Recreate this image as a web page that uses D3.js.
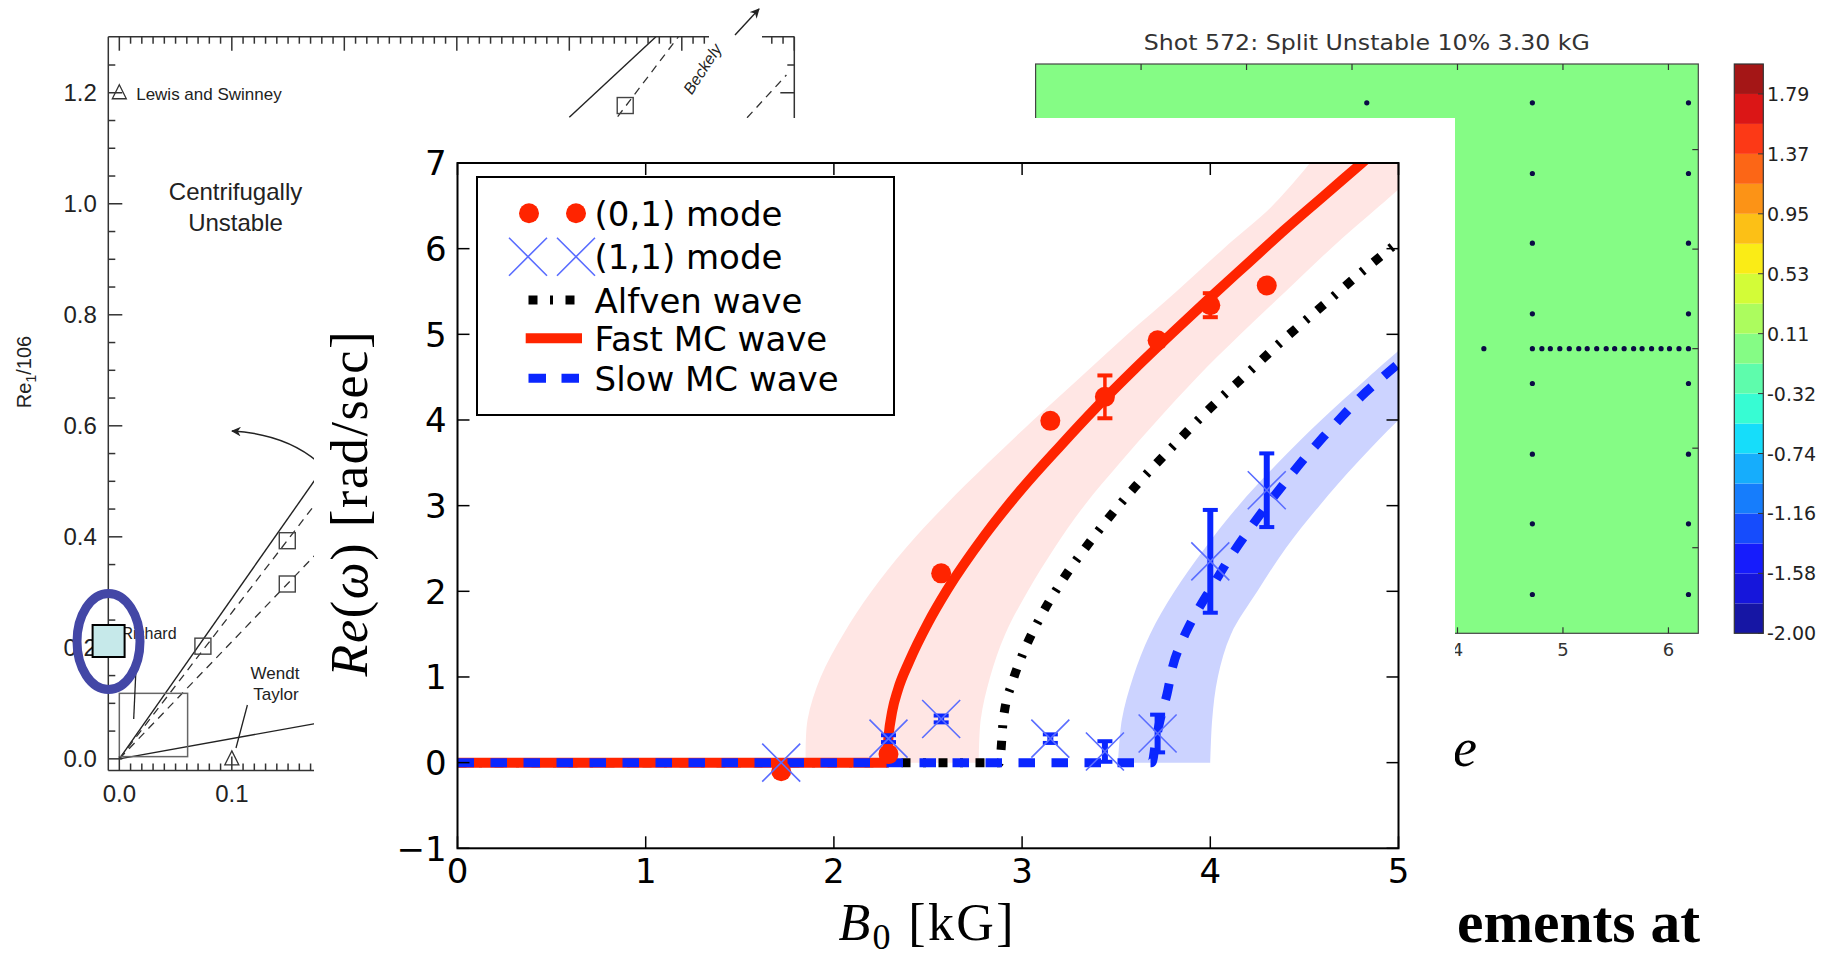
<!DOCTYPE html>
<html>
<head>
<meta charset="utf-8">
<script src="https://cdn.jsdelivr.net/npm/d3@7/dist/d3.min.js"></script>
<style>
html, body { margin: 0; padding: 0; background: #fff; overflow: hidden; }
svg { display: block; }
</style>
</head>
<body>
<svg id="slide" width="1839" height="957"></svg>
<script>
// ===================== data =====================
// Main panel: real frequency of the (0,1) and (1,1) modes versus applied field
const fieldTicks = [0, 1, 2, 3, 4, 5];
const freqTicks = [-1, 0, 1, 2, 3, 4, 5, 6, 7];

const shotField  = [1.72, 2.29, 2.57, 3.15, 3.44, 3.72, 4.00, 4.30];
const mode01Freq = [-0.10, 0.10, 2.21, 3.99, 4.27, 4.93, 5.34, 5.57];
const mode01Err  = [0, 0, 0, 0, 0.25, 0.03, 0.14, 0];
const mode11Freq = [0.00, 0.28, 0.51, 0.28, 0.13, 0.34, 2.35, 3.18];
const mode11Err  = [0, 0.04, 0.04, 0.05, 0.12, 0.22, 0.60, 0.43];

const alfvenField = [0, 2.88, 2.90, 2.95, 3.00, 3.10, 3.20, 3.40, 3.60, 3.80, 4.00, 4.20, 4.40, 4.60, 4.80, 5.00];
const alfvenFreq  = [0, 0, 0.50, 0.95, 1.25, 1.71, 2.08, 2.69, 3.22, 3.69, 4.14, 4.55, 4.96, 5.34, 5.72, 6.08];

const fastField = [0, 2.28, 2.29, 2.31, 2.34, 2.40, 2.50, 2.60, 2.80, 3.00, 3.20, 3.40, 3.60, 3.80, 4.00, 4.20, 4.40, 4.60, 4.80, 4.90];
const fastFreq  = [0, 0, 0.30, 0.60, 0.85, 1.18, 1.63, 2.01, 2.65, 3.20, 3.69, 4.16, 4.60, 5.02, 5.43, 5.83, 6.23, 6.61, 6.99, 7.18];

const slowField = [0, 3.69, 3.71, 3.74, 3.77, 3.80, 3.85, 3.90, 3.96, 4.00, 4.10, 4.20, 4.30, 4.40, 4.50, 4.60, 4.70, 4.80, 4.90, 5.00];
const slowFreq  = [0, 0, 0.25, 0.56, 0.80, 1.12, 1.42, 1.65, 1.88, 2.02, 2.38, 2.70, 3.00, 3.28, 3.55, 3.80, 4.04, 4.27, 4.47, 4.66];

// uncertainty bands: field range covered at each frequency
const fastBandFreq = [0, 0.5, 1, 1.5, 2, 2.5, 3, 3.5, 4, 4.5, 5, 5.5, 6, 6.5, 7];
const fastBandLow  = [1.85, 1.86, 1.93, 2.05, 2.20, 2.38, 2.59, 2.82, 3.06, 3.31, 3.56, 3.82, 4.07, 4.33, 4.53];
const fastBandHigh = [2.77, 2.78, 2.83, 2.91, 3.03, 3.17, 3.33, 3.52, 3.72, 3.93, 4.16, 4.40, 4.64, 4.90, 5.16];
const slowBandFreq = [0, 0.5, 1, 1.5, 2, 2.5, 3, 3.5, 4, 4.5, 5];
const slowBandLow  = [3.51, 3.53, 3.59, 3.68, 3.81, 3.97, 4.15, 4.36, 4.59, 4.84, 5.10];
const slowBandHigh = [4.00, 4.01, 4.04, 4.11, 4.25, 4.40, 4.58, 4.78, 5.00, 5.25, 5.52];

const legendLabels = ["(0,1) mode", "(1,1) mode", "Alfven wave", "Fast MC wave", "Slow MC wave"];

// Left panel: Couette-flow stability diagram
const reTicks = [0, 0.2, 0.4, 0.6, 0.8, 1.0, 1.2];
const reLabels = ["0.0", "0.2", "0.4", "0.6", "0.8", "1.0", "1.2"];
const ratioTicks = [0, 0.1, 0.2, 0.3, 0.4, 0.5, 0.6];
const ratioLabels = ["0.0", "0.1"];
const expSquares = [[0.0743, 0.203], [0.1493, 0.393], [0.1493, 0.315], [0.4497, 1.177]];
const expTriangles = [[0.1, 0.0], [0.0, 1.2]];
const solidBounds = [[[0, 0], [0.20, 0.578]], [[0, 0], [0.20, 0.073]], [[0.40, 1.156], [0.477, 1.301]]];
const dashedBounds = [[[0, 0], [0.20, 0.527]], [[0, 0], [0.20, 0.422]], [[0.443, 1.157], [0.497, 1.301]], [[0.558, 1.155], [0.593, 1.232]]];

// Right panel: probe array over the contour map
const thetaTicks = [1, 2, 3, 4, 5, 6];
const thetaLabels = ["1", "2", "3", "4", "5", "6"];
const zTicks = [-2, -1, 0, 1, 2];
const probeRowsZ = [2.47, 1.76, 1.06, 0.35, -0.35, -1.06, -1.76, -2.47];
const probeColsTheta = [3.14, 4.71, 6.19];
const ringTheta = [4.25, 4.71, 4.80, 4.88, 4.97, 5.06, 5.15, 5.23, 5.32, 5.41, 5.49, 5.58, 5.67, 5.75, 5.84, 5.93, 6.01, 6.10, 6.19];
const contourLevels = 19;
const colorbarLabels = ["1.79", "1.37", "0.95", "0.53", "0.11", "-0.32", "-0.74", "-1.16", "-1.58", "-2.00"];

// ===================== drawing =====================
const svg = d3.select("#slide");
const defs = svg.append("defs");

// ---------- left panel ----------
const lx = d3.scaleLinear().domain([-0.0098, 0.6]).range([108.3, 794.3]);
const ly = d3.scaleLinear().domain([-0.021, 1.301]).range([770.5, 36.7]);
const L = svg.append("g").attr("font-family", "'Liberation Sans', Arial, sans-serif");
defs.append("clipPath").attr("id", "leftClip").append("rect")
  .attr("x", lx(-0.0098)).attr("y", ly(1.301)).attr("width", lx(0.6) - lx(-0.0098)).attr("height", ly(-0.021) - ly(1.301));

const LC = L.append("g").attr("clip-path", "url(#leftClip)");
solidBounds.forEach(s => LC.append("line")
  .attr("x1", lx(s[0][0])).attr("y1", ly(s[0][1])).attr("x2", lx(s[1][0])).attr("y2", ly(s[1][1]))
  .attr("stroke", "#222").attr("stroke-width", 1.4));
dashedBounds.forEach(s => LC.append("line")
  .attr("x1", lx(s[0][0])).attr("y1", ly(s[0][1])).attr("x2", lx(s[1][0])).attr("y2", ly(s[1][1]))
  .attr("stroke", "#333").attr("stroke-width", 1.3).attr("stroke-dasharray", "8,6"));
// small inset box near the origin
LC.append("rect").attr("x", lx(0)).attr("y", ly(0.118)).attr("width", lx(0.0607) - lx(0))
  .attr("height", ly(0.004) - ly(0.118)).attr("fill", "none").attr("stroke", "#666").attr("stroke-width", 1.5);
expSquares.forEach(p => LC.append("rect").attr("x", lx(p[0]) - 8).attr("y", ly(p[1]) - 8)
  .attr("width", 16).attr("height", 16).attr("fill", "none").attr("stroke", "#444").attr("stroke-width", 1.4));
expTriangles.forEach(p => {
  const cx = lx(p[0]), cy = ly(p[1]);
  LC.append("path").attr("d", `M${cx},${cy - 8}L${cx + 7},${cy + 6}L${cx - 7},${cy + 6}Z`)
    .attr("fill", "none").attr("stroke", "#333").attr("stroke-width", 1.3);
});

// frame and ticks
const lAxis = L.append("g").attr("stroke", "#333").attr("stroke-width", 1.5);
lAxis.append("line").attr("x1", lx(-0.0098)).attr("x2", lx(-0.0098)).attr("y1", ly(1.301)).attr("y2", ly(-0.021));
lAxis.append("line").attr("x1", lx(-0.0098)).attr("x2", lx(0.6)).attr("y1", ly(-0.021)).attr("y2", ly(-0.021));
lAxis.append("line").attr("x1", lx(-0.0098)).attr("x2", lx(0.6)).attr("y1", ly(1.301)).attr("y2", ly(1.301));
lAxis.append("line").attr("x1", lx(0.6)).attr("x2", lx(0.6)).attr("y1", ly(1.301)).attr("y2", ly(-0.021));
d3.range(0, 1.30, 0.05).forEach(v => {
  const major = Math.abs(v / 0.2 - Math.round(v / 0.2)) < 1e-6;
  const len = major ? 14 : 7;
  lAxis.append("line").attr("x1", lx(-0.0098)).attr("x2", lx(-0.0098) + len).attr("y1", ly(v)).attr("y2", ly(v));
  lAxis.append("line").attr("x1", lx(0.6)).attr("x2", lx(0.6) - len).attr("y1", ly(v)).attr("y2", ly(v));
});
d3.range(0, 0.601, 0.01).forEach(u => {
  const major = Math.abs(u / 0.1 - Math.round(u / 0.1)) < 1e-6;
  const len = major ? 14 : 7;
  lAxis.append("line").attr("x1", lx(u)).attr("x2", lx(u)).attr("y1", ly(1.301)).attr("y2", ly(1.301) + len);
  lAxis.append("line").attr("x1", lx(u)).attr("x2", lx(u)).attr("y1", ly(-0.021)).attr("y2", ly(-0.021) - len);
});
L.selectAll("text.reLab").data(reTicks).enter().append("text")
  .attr("x", lx(-0.0098) - 11.5).attr("y", d => ly(d) + 8.5).attr("text-anchor", "end")
  .attr("font-size", 24).attr("fill", "#222").text((d, i) => reLabels[i]);
L.selectAll("text.ratioLab").data(ratioLabels).enter().append("text")
  .attr("x", (d, i) => lx(ratioTicks[i])).attr("y", ly(-0.021) + 31).attr("text-anchor", "middle")
  .attr("font-size", 24).attr("fill", "#222").text(d => d);
const yl = L.append("text").attr("transform", `translate(${31},${372}) rotate(-90)`)
  .attr("text-anchor", "middle").attr("font-size", 20).attr("fill", "#222");
yl.append("tspan").text("Re");
yl.append("tspan").attr("font-size", 14).attr("dy", 5).text("1");
yl.append("tspan").attr("dy", -5).text("/106");

// annotations
L.append("text").attr("x", lx(0.0150)).attr("y", ly(1.2) + 7).attr("font-size", 17).attr("fill", "#222").text("Lewis and Swinney");
L.append("text").attr("x", lx(0.1033)).attr("y", 200).attr("text-anchor", "middle").attr("font-size", 24).attr("fill", "#222").text("Centrifugally");
L.append("text").attr("x", lx(0.1033)).attr("y", 230.7).attr("text-anchor", "middle").attr("font-size", 24).attr("fill", "#222").text("Unstable");
L.append("text").attr("x", 149).attr("y", 639).attr("text-anchor", "middle").attr("font-size", 16).attr("fill", "#222").text("Richard");
L.append("line").attr("x1", 136.7).attr("y1", 653).attr("x2", 133.7).attr("y2", 719).attr("stroke", "#222").attr("stroke-width", 1.3);
L.append("text").attr("x", 275).attr("y", 679).attr("text-anchor", "middle").attr("font-size", 17).attr("fill", "#222").text("Wendt");
L.append("text").attr("x", 276).attr("y", 700).attr("text-anchor", "middle").attr("font-size", 17).attr("fill", "#222").text("Taylor");
L.append("line").attr("x1", 247.4).attr("y1", 705).attr("x2", 236).attr("y2", 748).attr("stroke", "#222").attr("stroke-width", 1.3);
defs.append("marker").attr("id", "headL").attr("viewBox", "0 0 10 10").attr("refX", 9).attr("refY", 5)
  .attr("markerWidth", 7).attr("markerHeight", 7).attr("orient", "auto-start-reverse")
  .append("path").attr("d", "M0,0L10,5L0,10L3,5Z").attr("fill", "#222");
L.append("path").attr("d", "M318,462 Q285,434 232,431").attr("fill", "none").attr("stroke", "#222")
  .attr("stroke-width", 1.4).attr("marker-end", "url(#headL)");
// label break in the top frame
L.append("rect").attr("x", 709).attr("y", 28).attr("width", 53).attr("height", 18).attr("fill", "#fff");
L.append("text").attr("transform", "translate(707,72) rotate(-57)").attr("text-anchor", "middle")
  .attr("font-size", 16).attr("font-style", "italic").attr("fill", "#222").text("Beckely");
L.append("line").attr("x1", 735).attr("y1", 35).attr("x2", 759).attr("y2", 9).attr("stroke", "#222")
  .attr("stroke-width", 1.4).attr("marker-end", "url(#headL)");
// highlight on the experiment marker
L.append("rect").attr("x", 92.6).attr("y", 625).attr("width", 32).attr("height", 32)
  .attr("fill", "#c6e9ea").attr("stroke", "#000").attr("stroke-width", 2);
L.append("ellipse").attr("cx", 108.5).attr("cy", 641.5).attr("rx", 31.5).attr("ry", 48)
  .attr("fill", "none").attr("stroke", "#4347a6").attr("stroke-width", 9);

// ---------- right panel: contour map ----------
function jet(t) {
  const seg = pts => {
    for (let i = 1; i < pts.length; i++) {
      if (t <= pts[i][0]) {
        const [x0, y0] = pts[i - 1], [x1, y1] = pts[i];
        return y0 + (y1 - y0) * (t - x0) / (x1 - x0);
      }
    }
    return pts[pts.length - 1][1];
  };
  const r = seg([[0, 0], [0.35, 0], [0.66, 1], [0.89, 1], [1, 0.5]]);
  const g = seg([[0, 0], [0.125, 0], [0.375, 1], [0.64, 1], [0.91, 0], [1, 0]]);
  const b = seg([[0, 0.5], [0.11, 1], [0.34, 1], [0.65, 0], [1, 0]]);
  // slightly muted, as in the printed map
  return d3.interpolateRgb(d3.rgb(r * 255, g * 255, b * 255), "#dcdcdc")(0.1);
}
const hx = d3.scaleLinear().domain([0, 2 * Math.PI]).range([1035.6, 1698.3]);
const hy = d3.scaleLinear().domain([-2.86, 2.86]).range([633.3, 64]);
const cval = d3.scaleLinear().domain([-2, 2]).range([633.3, 64]);
const H = svg.append("g").attr("font-family", "'DejaVu Sans', sans-serif");
const levelStep = 4 / contourLevels;
const fieldLevel = Math.floor((0 + 2) / levelStep);
H.append("rect").attr("x", hx(0)).attr("y", hy(2.86)).attr("width", hx(2 * Math.PI) - hx(0))
  .attr("height", hy(-2.86) - hy(2.86)).attr("fill", jet((fieldLevel + 0.5) / contourLevels))
  .attr("stroke", "#444").attr("stroke-width", 1.2);
const hTicks = H.append("g").attr("stroke", "#333").attr("stroke-width", 1.2);
thetaTicks.forEach(t => {
  hTicks.append("line").attr("x1", hx(t)).attr("x2", hx(t)).attr("y1", hy(2.86)).attr("y2", hy(2.86) + 6);
  hTicks.append("line").attr("x1", hx(t)).attr("x2", hx(t)).attr("y1", hy(-2.86)).attr("y2", hy(-2.86) - 6);
});
zTicks.forEach(z => {
  hTicks.append("line").attr("x1", hx(2 * Math.PI)).attr("x2", hx(2 * Math.PI) - 6).attr("y1", hy(z)).attr("y2", hy(z));
  hTicks.append("line").attr("x1", hx(0)).attr("x2", hx(0) + 6).attr("y1", hy(z)).attr("y2", hy(z));
});
H.selectAll("text.th").data(thetaTicks).enter().append("text")
  .attr("x", d => hx(d)).attr("y", hy(-2.86) + 23).attr("text-anchor", "middle")
  .attr("font-size", 18).attr("fill", "#333").text((d, i) => thetaLabels[i]);
const probes = [];
probeRowsZ.forEach(z => probeColsTheta.forEach(t => probes.push([t, z])));
ringTheta.forEach(t => probes.push([t, 0]));
H.selectAll("circle.probe").data(probes).enter().append("circle")
  .attr("cx", d => hx(d[0])).attr("cy", d => hy(d[1])).attr("r", 2.6).attr("fill", "#0b0b45");
H.append("text").attr("x", 1366.8).attr("y", 50).attr("text-anchor", "middle").attr("font-size", 20.5)
  .attr("fill", "#333").attr("textLength", 446).attr("lengthAdjust", "spacingAndGlyphs")
  .text("Shot 572: Split Unstable 10% 3.30 kG");
// colour bar
d3.range(contourLevels).forEach(k => {
  const lo = -2 + k * levelStep, hi = lo + levelStep;
  H.append("rect").attr("x", 1734.3).attr("y", cval(hi)).attr("width", 29).attr("height", cval(lo) - cval(hi))
    .attr("fill", jet((k + 0.5) / contourLevels));
});
H.append("rect").attr("x", 1734.3).attr("y", cval(2)).attr("width", 29).attr("height", cval(-2) - cval(2))
  .attr("fill", "none").attr("stroke", "#333").attr("stroke-width", 1.2);
colorbarLabels.forEach((lab, i) => {
  const v = -2 + (contourLevels - 1 - 2 * i) * levelStep;
  H.append("line").attr("x1", 1763.3).attr("x2", 1758).attr("y1", cval(v)).attr("y2", cval(v)).attr("stroke", "#333");
  H.append("text").attr("x", 1767).attr("y", cval(v) + 7).attr("font-size", 19).attr("fill", "#222").text(lab);
});

// slide body text behind the main figure
svg.append("text").attr("x", 1453).attr("y", 766).attr("font-family", "'Liberation Serif', serif")
  .attr("font-style", "italic").attr("font-size", 54).attr("fill", "#000").text("e");
svg.append("text").attr("x", 1457).attr("y", 942).attr("font-family", "'Liberation Serif', serif")
  .attr("font-weight", "bold").attr("font-size", 60).attr("fill", "#000")
  .attr("textLength", 243).attr("lengthAdjust", "spacingAndGlyphs").text("ements at");

// ---------- main figure ----------
svg.append("rect").attr("x", 314).attr("y", 118).attr("width", 1141).attr("height", 839).attr("fill", "#fff");

const mx = d3.scaleLinear().domain([0, 5]).range([457.5, 1398.5]);
const my = d3.scaleLinear().domain([-1, 7]).range([848.3, 163.0]);
const M = svg.append("g").attr("font-family", "'DejaVu Sans', sans-serif");
defs.append("clipPath").attr("id", "plotClip").append("rect")
  .attr("x", mx(0)).attr("y", my(7)).attr("width", mx(5) - mx(0)).attr("height", my(-1) - my(7));
const P = M.append("g").attr("clip-path", "url(#plotClip)");

const band = d3.area().curve(d3.curveCatmullRom).y(d => my(d.w)).x0(d => mx(d.lo)).x1(d => mx(d.hi));
P.append("path").datum(fastBandFreq.map((w, i) => ({ w, lo: fastBandLow[i], hi: fastBandHigh[i] })))
  .attr("d", band).attr("fill", "#ffe6e4");
P.append("path").datum(slowBandFreq.map((w, i) => ({ w, lo: slowBandLow[i], hi: slowBandHigh[i] })))
  .attr("d", band).attr("fill", "#ccd3ff");

const RED = "#ff2400", BLUE = "#0a26ff", XBLUE = "#5a6dff";
function errorBars(g, vals, errs, color, width) {
  shotField.forEach((b, i) => {
    if (errs[i] <= 0) return;
    const x = mx(b), y0 = my(vals[i] - errs[i]), y1 = my(vals[i] + errs[i]);
    g.append("line").attr("x1", x).attr("x2", x).attr("y1", y0).attr("y2", y1).attr("stroke", color).attr("stroke-width", width);
    [y0, y1].forEach(y => g.append("line").attr("x1", x - 7.5).attr("x2", x + 7.5).attr("y1", y).attr("y2", y)
      .attr("stroke", color).attr("stroke-width", 4));
  });
}
const marks = M.append("g");
errorBars(marks, mode01Freq, mode01Err, RED, 3.5);
marks.selectAll("circle.m01").data(shotField).enter().append("circle")
  .attr("cx", d => mx(d)).attr("cy", (d, i) => my(mode01Freq[i])).attr("r", 10).attr("fill", RED);
errorBars(marks, mode11Freq, mode11Err, BLUE, 6);
function cross(g, x, y, s) {
  g.append("path").attr("d", `M${x - s},${y - s}L${x + s},${y + s}M${x - s},${y + s}L${x + s},${y - s}`)
    .attr("stroke", XBLUE).attr("stroke-width", 1.6).attr("fill", "none");
}
shotField.forEach((b, i) => cross(marks, mx(b), my(mode11Freq[i]), 19));

const curve = d3.line().curve(d3.curveMonotoneX).x(d => mx(d[0])).y(d => my(d[1]));
P.append("path").datum(alfvenField.map((b, i) => [b, alfvenFreq[i]])).attr("d", curve)
  .attr("fill", "none").attr("stroke", "#000").attr("stroke-width", 9).attr("stroke-dasharray", "9,12.5,3,12.5");
P.append("path").datum(fastField.map((b, i) => [b, fastFreq[i]])).attr("d", curve)
  .attr("fill", "none").attr("stroke", RED).attr("stroke-width", 10);
P.append("path").datum(slowField.map((b, i) => [b, slowFreq[i]])).attr("d", curve)
  .attr("fill", "none").attr("stroke", BLUE).attr("stroke-width", 9).attr("stroke-dasharray", "16.5,16.5");

// axes
const tickG = M.append("g").attr("stroke", "#000").attr("stroke-width", 1.5);
fieldTicks.forEach(b => {
  tickG.append("line").attr("x1", mx(b)).attr("x2", mx(b)).attr("y1", my(-1)).attr("y2", my(-1) - 12);
  tickG.append("line").attr("x1", mx(b)).attr("x2", mx(b)).attr("y1", my(7)).attr("y2", my(7) + 12);
});
freqTicks.forEach(w => {
  tickG.append("line").attr("x1", mx(0)).attr("x2", mx(0) + 12).attr("y1", my(w)).attr("y2", my(w));
  tickG.append("line").attr("x1", mx(5)).attr("x2", mx(5) - 12).attr("y1", my(w)).attr("y2", my(w));
});
M.append("rect").attr("x", mx(0)).attr("y", my(7)).attr("width", mx(5) - mx(0)).attr("height", my(-1) - my(7))
  .attr("fill", "none").attr("stroke", "#000").attr("stroke-width", 2);
const fmt = d3.format("d");
M.selectAll("text.xt").data(fieldTicks).enter().append("text")
  .attr("x", d => mx(d)).attr("y", my(-1) + 34.7).attr("text-anchor", "middle")
  .attr("font-size", 34).attr("fill", "#000").text(d => fmt(d));
M.selectAll("text.yt").data(freqTicks).enter().append("text")
  .attr("x", mx(0) - 10.8).attr("y", d => my(d) + 12.2).attr("text-anchor", "end")
  .attr("font-size", 34).attr("fill", "#000").text(d => fmt(d));

// axis titles
const xt = M.append("text").attr("x", 926).attr("y", 940).attr("text-anchor", "middle")
  .attr("font-family", "'Liberation Serif', 'DejaVu Serif', serif").attr("font-size", 52).attr("fill", "#000")
  .attr("textLength", 175).attr("lengthAdjust", "spacing");
xt.append("tspan").attr("font-style", "italic").text("B");
xt.append("tspan").attr("font-size", 36).attr("dy", 9).text("0");
xt.append("tspan").attr("dy", -9).text(" [kG]");
const ytl = M.append("text").attr("transform", "translate(367,504) rotate(-90)").attr("text-anchor", "middle")
  .attr("font-family", "'Liberation Serif', 'DejaVu Serif', serif").attr("font-size", 52).attr("fill", "#000")
  .attr("textLength", 345).attr("lengthAdjust", "spacing");
ytl.append("tspan").attr("font-style", "italic").text("Re");
ytl.append("tspan").text("(");
ytl.append("tspan").attr("font-style", "italic").text("ω");
ytl.append("tspan").text(") [rad/sec]");

// legend
const leg = M.append("g");
leg.append("rect").attr("x", 477).attr("y", 177).attr("width", 417).attr("height", 238)
  .attr("fill", "#fff").attr("stroke", "#000").attr("stroke-width", 2);
const rowY = [213.3, 256.7, 300, 338.3, 378.3];
[529, 576].forEach(x => leg.append("circle").attr("cx", x).attr("cy", rowY[0]).attr("r", 10).attr("fill", RED));
[528, 576].forEach(x => cross(leg, x, rowY[1], 19));
leg.append("line").attr("x1", 528.5).attr("x2", 574.5).attr("y1", rowY[2]).attr("y2", rowY[2])
  .attr("stroke", "#000").attr("stroke-width", 9).attr("stroke-dasharray", "9,12.5,3,12.5");
leg.append("line").attr("x1", 525.7).attr("x2", 582).attr("y1", rowY[3]).attr("y2", rowY[3])
  .attr("stroke", RED).attr("stroke-width", 10);
leg.append("line").attr("x1", 528.5).attr("x2", 579).attr("y1", rowY[4]).attr("y2", rowY[4])
  .attr("stroke", BLUE).attr("stroke-width", 9).attr("stroke-dasharray", "17.5,15.5");
leg.selectAll("text.lg").data(legendLabels).enter().append("text")
  .attr("x", 594.6).attr("y", (d, i) => rowY[i] + 12.5).attr("font-size", 34).attr("fill", "#000").text(d => d);
</script>
</body>
</html>
